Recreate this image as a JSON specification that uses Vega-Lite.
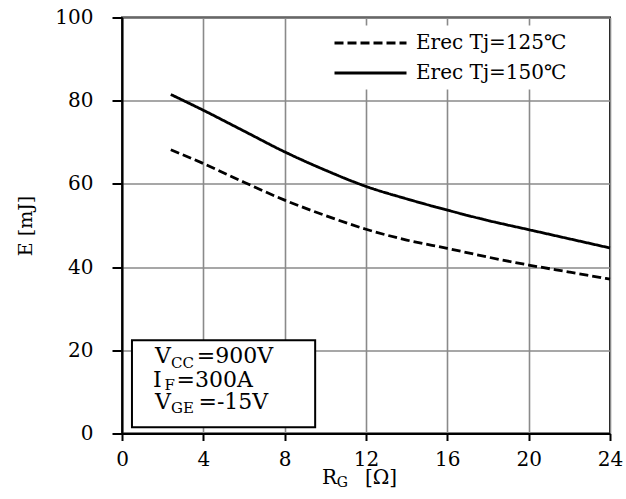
{
  "$schema": "https://vega.github.io/schema/vega-lite/v6.json",
  "width": 488,
  "height": 416,
  "autosize": {"type": "none"},
  "padding": {"left": 122, "top": 17.5, "right": 16, "bottom": 65.5},
  "background": "white",
  "config": {
    "view": {"stroke": "black", "strokeWidth": 2},
    "axis": {
      "domainColor": "black", "domainWidth": 2,
      "tickColor": "black", "tickWidth": 2,
      "gridColor": "#8a8a8a", "gridWidth": 1.6, "gridOpacity": 1,
      "labelFont": "DejaVu Serif", "labelFontSize": 20, "labelColor": "black", "labelFlush": false,
      "titleFont": "DejaVu Serif", "titleFontSize": 19, "titleColor": "black", "titleFontWeight": "normal"
    },
    "text": {"font": "DejaVu Serif", "color": "black"}
  },
  "layer": [
    {
      "data": {"values": [
        {"rg": 2.4, "e": 68.2, "series": "Erec Tj=125℃"},
        {"rg": 4, "e": 64.9, "series": "Erec Tj=125℃"},
        {"rg": 6, "e": 60.4, "series": "Erec Tj=125℃"},
        {"rg": 8, "e": 56.1, "series": "Erec Tj=125℃"},
        {"rg": 10, "e": 52.4, "series": "Erec Tj=125℃"},
        {"rg": 12, "e": 49.1, "series": "Erec Tj=125℃"},
        {"rg": 14, "e": 46.5, "series": "Erec Tj=125℃"},
        {"rg": 16, "e": 44.5, "series": "Erec Tj=125℃"},
        {"rg": 18, "e": 42.4, "series": "Erec Tj=125℃"},
        {"rg": 20, "e": 40.5, "series": "Erec Tj=125℃"},
        {"rg": 22, "e": 38.8, "series": "Erec Tj=125℃"},
        {"rg": 24, "e": 37.1, "series": "Erec Tj=125℃"},
        {"rg": 2.4, "e": 81.5, "series": "Erec Tj=150℃"},
        {"rg": 4, "e": 77.7, "series": "Erec Tj=150℃"},
        {"rg": 6, "e": 72.7, "series": "Erec Tj=150℃"},
        {"rg": 8, "e": 67.7, "series": "Erec Tj=150℃"},
        {"rg": 10, "e": 63.3, "series": "Erec Tj=150℃"},
        {"rg": 12, "e": 59.4, "series": "Erec Tj=150℃"},
        {"rg": 14, "e": 56.4, "series": "Erec Tj=150℃"},
        {"rg": 16, "e": 53.7, "series": "Erec Tj=150℃"},
        {"rg": 18, "e": 51.2, "series": "Erec Tj=150℃"},
        {"rg": 20, "e": 49.0, "series": "Erec Tj=150℃"},
        {"rg": 22, "e": 46.8, "series": "Erec Tj=150℃"},
        {"rg": 24, "e": 44.6, "series": "Erec Tj=150℃"}
      ]},
      "mark": {"type": "line", "color": "black", "strokeWidth": 2.8, "interpolate": "monotone"},
      "encoding": {
        "x": {"field": "rg", "type": "quantitative",
              "scale": {"domain": [0, 24], "nice": false, "zero": false},
              "axis": {"values": [0, 4, 8, 12, 16, 20, 24], "tickSize": 7, "labelPadding": 9, "title": null}},
        "y": {"field": "e", "type": "quantitative",
              "scale": {"domain": [0, 100], "nice": false},
              "axis": {"values": [0, 20, 40, 60, 80, 100], "tickSize": 10, "labelPadding": 19,
                       "title": "E [mJ]", "titleX": -87, "titleY": 208, "titleAngle": -90, "titleAlign": "center", "titleBaseline": "bottom"}},
        "strokeDash": {"field": "series", "type": "nominal",
          "scale": {"domain": ["Erec Tj=125℃", "Erec Tj=150℃"], "range": [[9, 4], [1, 0]]},
          "legend": {"orient": "none", "legendX": 205, "legendY": 8, "title": null,
                     "fillColor": "white", "padding": 6,
                     "symbolType": "M-1,0L6.2,0", "symbolSize": 400,
                     "symbolStrokeWidth": 3, "symbolStrokeColor": "black",
                     "labelFont": "DejaVu Serif", "labelFontSize": 20, "labelColor": "black",
                     "labelOffset": 60, "rowPadding": 8}}
      }
    },
    {
      "data": {"values": [{}]},
      "mark": {"type": "rect", "fill": "white", "stroke": "black", "strokeWidth": 2},
      "encoding": {"x": {"datum": 0.49}, "x2": {"datum": 9.5}, "y": {"datum": 22.4}, "y2": {"datum": 1.5}}
    },
    {"data": {"values": [{}]}, "mark": {"type": "text", "fontSize": 22, "align": "left", "baseline": "alphabetic", "text": "V"},
     "encoding": {"x": {"datum": 1.62}, "y": {"datum": 16.9}}},
    {"data": {"values": [{}]}, "mark": {"type": "text", "fontSize": 15, "align": "left", "baseline": "alphabetic", "text": "CC"},
     "encoding": {"x": {"datum": 2.41}, "y": {"datum": 15.7}}},
    {"data": {"values": [{}]}, "mark": {"type": "text", "fontSize": 22, "align": "left", "baseline": "alphabetic", "text": "=900V"},
     "encoding": {"x": {"datum": 3.68}, "y": {"datum": 16.9}}},
    {"data": {"values": [{}]}, "mark": {"type": "text", "fontSize": 22, "align": "left", "baseline": "alphabetic", "text": "I"},
     "encoding": {"x": {"datum": 1.53}, "y": {"datum": 11.1}}},
    {"data": {"values": [{}]}, "mark": {"type": "text", "fontSize": 15, "align": "left", "baseline": "alphabetic", "text": "F"},
     "encoding": {"x": {"datum": 2.09}, "y": {"datum": 10.4}}},
    {"data": {"values": [{}]}, "mark": {"type": "text", "fontSize": 22, "align": "left", "baseline": "alphabetic", "text": "=300A"},
     "encoding": {"x": {"datum": 2.68}, "y": {"datum": 11.1}}},
    {"data": {"values": [{}]}, "mark": {"type": "text", "fontSize": 22, "align": "left", "baseline": "alphabetic", "text": "V"},
     "encoding": {"x": {"datum": 1.62}, "y": {"datum": 5.84}}},
    {"data": {"values": [{}]}, "mark": {"type": "text", "fontSize": 15, "align": "left", "baseline": "alphabetic", "text": "GE"},
     "encoding": {"x": {"datum": 2.41}, "y": {"datum": 4.88}}},
    {"data": {"values": [{}]}, "mark": {"type": "text", "fontSize": 22, "align": "left", "baseline": "alphabetic", "text": "=-15V"},
     "encoding": {"x": {"datum": 3.76}, "y": {"datum": 5.84}}},
    {"data": {"values": [{}]}, "mark": {"type": "text", "fontSize": 20, "align": "left", "baseline": "alphabetic", "text": "R"},
     "encoding": {"x": {"datum": 9.83}, "y": {"datum": -12.1}}},
    {"data": {"values": [{}]}, "mark": {"type": "text", "fontSize": 14, "align": "left", "baseline": "alphabetic", "text": "G"},
     "encoding": {"x": {"datum": 10.56}, "y": {"datum": -12.95}}},
    {"data": {"values": [{}]}, "mark": {"type": "text", "fontSize": 20, "align": "left", "baseline": "alphabetic", "text": "[Ω]"},
     "encoding": {"x": {"datum": 11.95}, "y": {"datum": -12.1}}}
  ]
}
